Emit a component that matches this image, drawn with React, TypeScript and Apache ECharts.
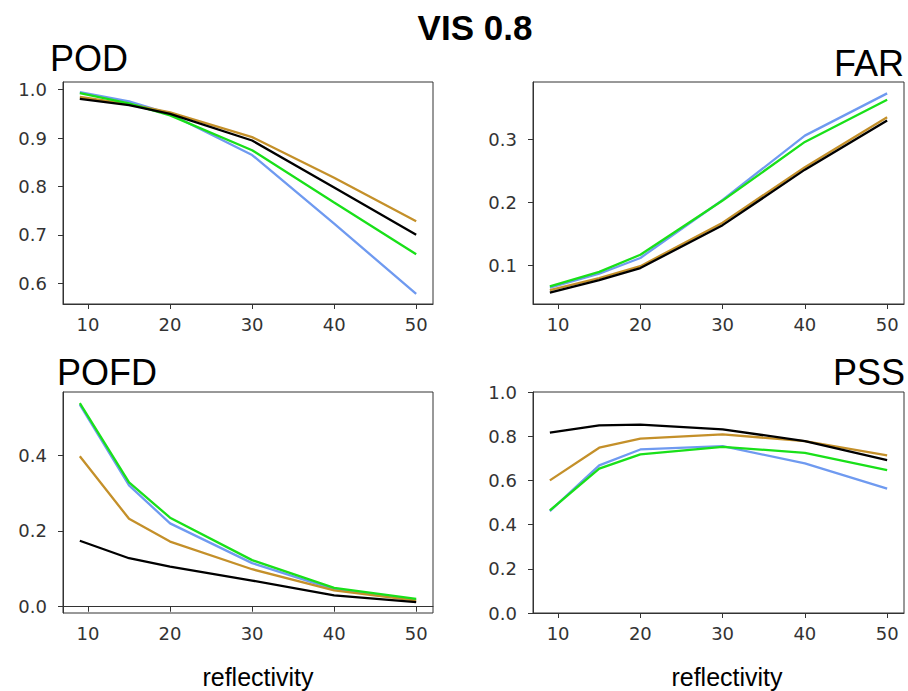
import React, { useEffect, useRef } from "react";
import * as echarts from "echarts";

const reflectivity = [9, 15, 20, 30, 40, 50];
const xTicks = [10, 20, 30, 40, 50];

const seriesNames = ["blue", "gold", "green", "black"];
const seriesColors = ["#6f9af0", "#c4902a", "#19e019", "#000000"];

// POD
const podBlue = [0.995, 0.976, 0.95, 0.865, 0.723, 0.578];
const podGold = [0.985, 0.97, 0.953, 0.902, 0.818, 0.728];
const podGreen = [0.993, 0.972, 0.947, 0.875, 0.767, 0.66];
const podBlack = [0.981, 0.968, 0.95, 0.895, 0.798, 0.7];
const podTicks = [0.6, 0.7, 0.8, 0.9, 1.0];

// FAR
const farBlue = [0.065, 0.087, 0.112, 0.204, 0.306, 0.373];
const farGold = [0.061, 0.08, 0.099, 0.168, 0.256, 0.335];
const farGreen = [0.067, 0.09, 0.117, 0.203, 0.296, 0.363];
const farBlack = [0.057, 0.077, 0.096, 0.164, 0.252, 0.33];
const farTicks = [0.1, 0.2, 0.3];

// POFD
const pofdBlue = [0.533, 0.32, 0.22, 0.115, 0.046, 0.018];
const pofdGold = [0.397, 0.232, 0.172, 0.099, 0.043, 0.016];
const pofdGreen = [0.537, 0.328, 0.235, 0.123, 0.05, 0.021];
const pofdBlack = [0.174, 0.128, 0.106, 0.069, 0.03, 0.012];
const pofdTicks = [0.0, 0.2, 0.4];

// PSS
const pssBlue = [0.461, 0.668, 0.74, 0.755, 0.677, 0.563];
const pssGold = [0.6, 0.748, 0.789, 0.808, 0.778, 0.713];
const pssGreen = [0.464, 0.653, 0.718, 0.752, 0.725, 0.646];
const pssBlack = [0.816, 0.849, 0.852, 0.831, 0.778, 0.692];
const pssTicks = [0.0, 0.2, 0.4, 0.6, 0.8, 1.0];

const panels = [
  { data: [podBlue, podGold, podGreen, podBlack], ticks: podTicks, min: 0.557, max: 1.016 },
  { data: [farBlue, farGold, farGreen, farBlack], ticks: farTicks, min: 0.039, max: 0.391 },
  { data: [pofdBlue, pofdGold, pofdGreen, pofdBlack], ticks: pofdTicks, min: -0.0165, max: 0.5665 },
  { data: [pssBlue, pssGold, pssGreen, pssBlack], ticks: pssTicks, min: 0, max: 1 },
];

const gridBoxes = [
  { left: 63, top: 82, width: 370, height: 222 },
  { left: 533, top: 82, width: 371, height: 222 },
  { left: 63, top: 392, width: 370, height: 221 },
  { left: 533, top: 392, width: 371, height: 221 },
];

const axisColor = "#333333";
const tickFont = "DejaVu Sans";
const titleFont = "Liberation Sans, Arial, sans-serif";

export default function App() {
  const ref = useRef<HTMLDivElement>(null);
  useEffect(() => {
    if (!ref.current) return;
    const chart = echarts.init(ref.current, undefined, { renderer: "svg" });
    const grids = gridBoxes.map((g) => ({
      ...g,
      show: true,
      borderColor: axisColor,
      borderWidth: 1,
      backgroundColor: "transparent",
    }));
    const xAxes = panels.map((_, i) => ({
      type: "value",
      gridIndex: i,
      min: 6.95,
      max: 52.05,
      splitLine: { show: false },
      axisLine: { show: true, lineStyle: { color: axisColor, width: 1 } },
      axisTick: { show: true, length: 5, lineStyle: { color: axisColor }, customValues: xTicks },
      axisLabel: {
        customValues: xTicks,
        color: axisColor,
        fontFamily: tickFont,
        fontSize: 18,
        margin: 11,
        formatter: (v: number) => String(v),
      },
    }));
    const yAxes = panels.map((p, i) => ({
      type: "value",
      gridIndex: i,
      min: p.min,
      max: p.max,
      splitLine: { show: false },
      axisLine: { show: true, lineStyle: { color: axisColor, width: 1 } },
      axisTick: { show: true, length: 5, lineStyle: { color: axisColor }, customValues: p.ticks },
      axisLabel: {
        customValues: p.ticks,
        color: axisColor,
        fontFamily: tickFont,
        fontSize: 18,
        margin: 16,
        formatter: (v: number) => v.toFixed(1),
      },
    }));
    const series: any[] = [];
    panels.forEach((p, i) => {
      p.data.forEach((vals, k) => {
        series.push({
          type: "line",
          name: seriesNames[k] + i,
          xAxisIndex: i,
          yAxisIndex: i,
          data: reflectivity.map((x, j) => [x, vals[j]]),
          showSymbol: false,
          symbol: "none",
          lineStyle: { color: seriesColors[k], width: 2.3 },
          itemStyle: { color: seriesColors[k] },
          z: 2 + k,
        });
      });
    });
    const txt = (text: string, x: number, y: number, size: number, align: string, weight = "normal") => ({
      type: "text",
      x,
      y,
      style: {
        text,
        fill: "#000",
        font: `${weight} ${size}px ${titleFont}`,
        textAlign: align,
        textVerticalAlign: "middle",
      },
    });
    chart.setOption({
      animation: false,
      backgroundColor: "#ffffff",
      grid: grids,
      xAxis: xAxes,
      yAxis: yAxes,
      series,
      graphic: [
        txt("VIS 0.8", 475, 27, 35, "center", "bold"),
        txt("POD", 50, 58, 36, "left"),
        txt("FAR", 904, 63, 36, "right"),
        txt("POFD", 57, 372, 36, "left"),
        txt("PSS", 905, 372, 36, "right"),
        txt("reflectivity", 258, 677, 25, "center"),
        txt("reflectivity", 727, 677, 25, "center"),
      ],
    });
    return () => chart.dispose();
  }, []);
  return (
    <div
      ref={ref}
      style={{ position: "fixed", left: 0, top: 0, width: 908, height: 691, background: "#fff" }}
    />
  );
}
